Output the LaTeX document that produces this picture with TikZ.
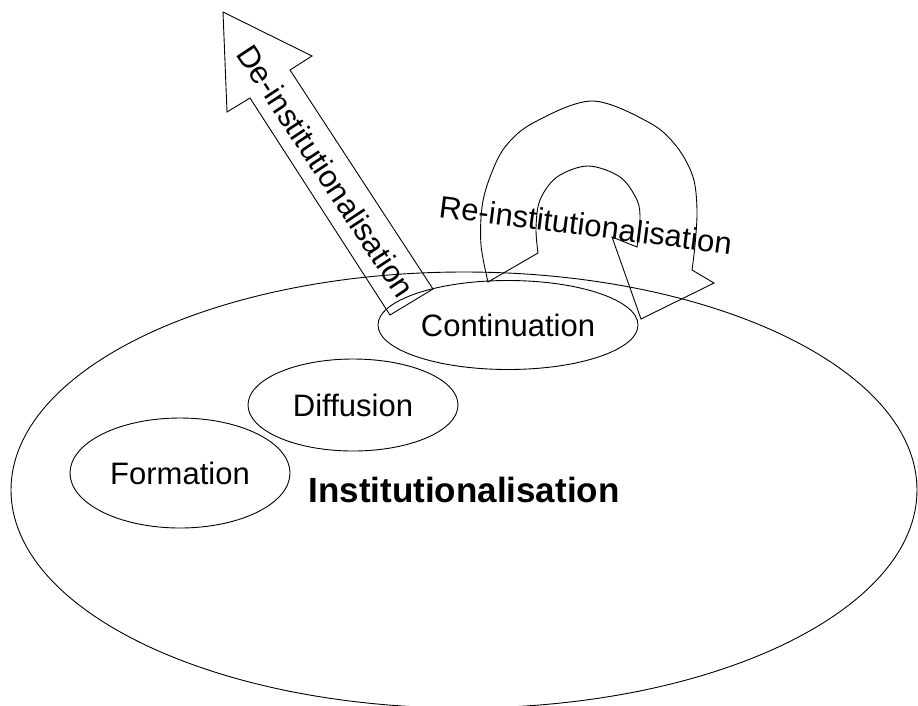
\documentclass[tikz,border=0pt]{standalone}
\usepackage{fontspec}
\setmainfont{Liberation Sans}
\usetikzlibrary{shapes.geometric}
\begin{document}
\begin{tikzpicture}[x=1pt,y=-1pt,
  outline/.style={draw=black, line width=0.9pt, line join=miter},
  stage/.style={outline, ellipse, inner sep=0pt, font=\fontsize{31}{37}\selectfont},
  arrowlabel/.style={inner sep=0pt, font=\fontsize{31}{37}\selectfont},
  mainlabel/.style={font=\fontsize{35}{42}\selectfont\bfseries}]
  \useasboundingbox (0,0) rectangle (918,705);
  \clip (0,0) rectangle (918,705);

  % the whole process
  \node[outline, ellipse, inner sep=0pt, minimum width=906, minimum height=436,
        mainlabel] (inst) at (464,490) {Institutionalisation};

  % its stages
  \node[stage, minimum width=220, minimum height=110] (formation) at (180,473) {Formation};
  \node[stage, minimum width=210, minimum height=92] (diffusion) at (353,405) {Diffusion};
  \node[stage, minimum width=260, minimum height=89] (continuation) at (508,325) {Continuation};

  % block arrow leaving the process
  \draw[outline] (223,12) -- (312,56) -- (290,70) -- (433,289) -- (390,315)
    -- (250,98) -- (227,112) -- cycle;
  \node[arrowlabel, rotate=-56.5] (deinst) at (326,171) {De-institutionalisation};

  % U-turn block arrow returning to the process
  \draw[outline] (538,253) -- (488,282)
    -- plot[smooth, tension=0.55] coordinates {(488,282) (481,245) (482,207) (490,177)
       (505,147) (533,123) (592,101) (650,123) (677,147) (693,177) (697,210) (695,245) (692,270)}
    -- (714,283) -- (641,319) -- (612,237) -- (637,247)
    -- plot[smooth, tension=0.55] coordinates {(637,247) (640,220) (637,200) (620,177)
       (588,166) (557,177) (540,200) (536,228) (538,253)}
    -- cycle;
  \node[arrowlabel, rotate=-7.3, anchor=base west] (reinst) at (438,217) {Re-institutionalisation};
\end{tikzpicture}
\end{document}
